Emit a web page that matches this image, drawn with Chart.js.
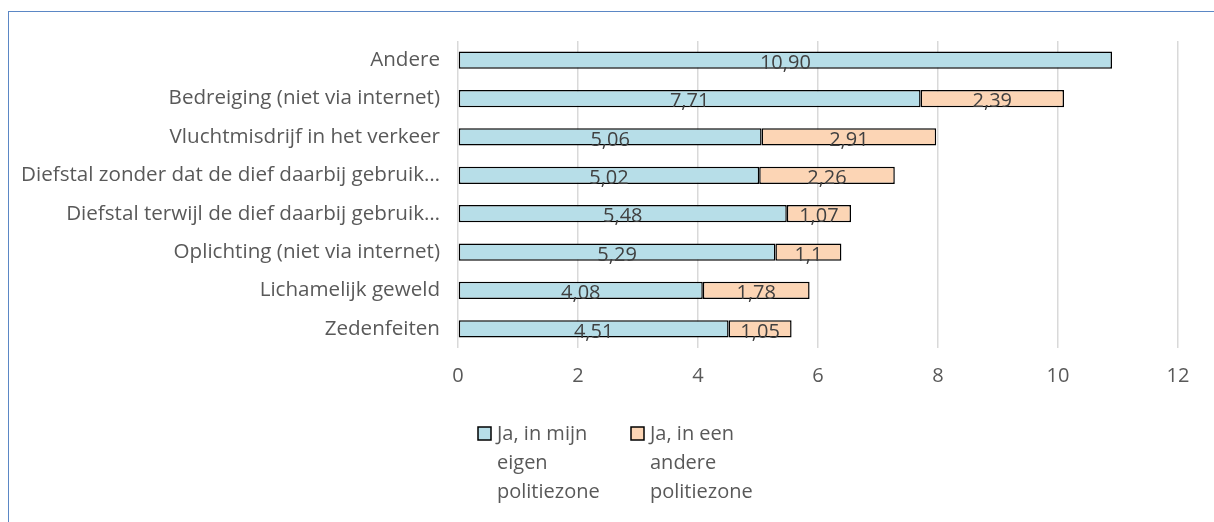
<!DOCTYPE html>
<html>
<head>
<meta charset="utf-8">
<script src="https://cdn.jsdelivr.net/npm/chart.js@4/dist/chart.umd.min.js"></script>
<style>
  html, body { margin: 0; padding: 0; background: #fff; overflow: hidden; }
  #wrap { position: relative; width: 1214px; height: 522px; }
  #frame { position: absolute; left: 8px; top: 11px; width: 1300px; height: 600px; border: 1px solid #5B87C5; box-sizing: border-box; }
  canvas { position: absolute; left: 0; top: 0; }
</style>
</head>
<body>
<div id="wrap">
  <div id="frame"></div>
  <canvas id="chart" width="1214" height="522"></canvas>
</div>
<script>
const categories = [
  'Andere',
  'Bedreiging (niet via internet)',
  'Vluchtmisdrijf in het verkeer',
  'Diefstal zonder dat de dief daarbij gebruik…',
  'Diefstal terwijl de dief daarbij gebruik…',
  'Oplichting (niet via internet)',
  'Lichamelijk geweld',
  'Zedenfeiten',
];
// kept as strings so the labels show the same decimals as the source (10,90 / 1,1)
const eigenZone = ['10.90', '7.71', '5.06', '5.02', '5.48', '5.29', '4.08', '4.51'];
const andereZone = [null, '2.39', '2.91', '2.26', '1.07', '1.1', '1.78', '1.05'];
const seriesNames = [['Ja, in mijn', 'eigen', 'politiezone'], ['Ja, in een', 'andere', 'politiezone']];
const xTicks = [0, 2, 4, 6, 8, 10, 12];

const FONT = '"Open Sans", "DejaVu Sans", sans-serif';
const colors = ['#B7DEE8', '#FCD5B5'];

// labels in the middle of each bar segment, Excel style with comma decimals
const barLabels = {
  id: 'barLabels',
  afterDatasetsDraw(chart) {
    const ctx = chart.ctx;
    ctx.save();
    ctx.font = '20px ' + FONT;
    ctx.fillStyle = '#404040';
    ctx.textAlign = 'center';
    ctx.textBaseline = 'middle';
    chart.data.datasets.forEach((ds, i) => {
      const meta = chart.getDatasetMeta(i);
      meta.data.forEach((bar, j) => {
        const v = ds.data[j];
        if (v == null) return;
        ctx.fillText(String(v).replace('.', ','), (bar.x + bar.base) / 2, bar.y + 3);
      });
    });
    ctx.restore();
  }
};

// legend with wrapped text under the axis
const wrapLegend = {
  id: 'wrapLegend',
  afterDraw(chart) {
    const ctx = chart.ctx;
    const starts = [478, 631];
    ctx.save();
    ctx.font = '20px ' + FONT;
    ctx.textBaseline = 'middle';
    ctx.textAlign = 'left';
    seriesNames.forEach((lines, i) => {
      const x = starts[i];
      ctx.fillStyle = colors[i];
      ctx.fillRect(x, 427, 13, 13);
      ctx.strokeStyle = '#000';
      ctx.lineWidth = 1.5;
      ctx.strokeRect(x, 427, 13, 13);
      ctx.fillStyle = '#595959';
      lines.forEach((t, k) => ctx.fillText(t, x + 19, 434 + k * 29));
    });
    ctx.restore();
  }
};

new Chart(document.getElementById('chart'), {
  type: 'bar',
  data: {
    labels: categories,
    datasets: [
      { label: seriesNames[0].join(' '), data: eigenZone, backgroundColor: colors[0] },
      { label: seriesNames[1].join(' '), data: andereZone, backgroundColor: colors[1] },
    ],
  },
  options: {
    indexAxis: 'y',
    responsive: false,
    animation: false,
    datasets: {
      bar: { borderColor: '#000', borderWidth: 1.5, borderSkipped: false, barPercentage: 0.75, categoryPercentage: 0.6 },
    },
    layout: { padding: { top: 41, right: 36, left: 0, bottom: 0 } },
    plugins: { legend: { display: false }, tooltip: { enabled: false } },
    scales: {
      x: {
        stacked: true,
        min: 0,
        max: 12,
        afterBuildTicks: (s) => { s.ticks = xTicks.map(v => ({ value: v })); },
        afterFit: (s) => { s.height = 174; },
        grid: { color: '#D9D9D9', lineWidth: 1.5, drawTicks: false },
        border: { display: false },
        ticks: { color: '#595959', font: { family: FONT, size: 20 }, padding: 16 },
      },
      y: {
        stacked: true,
        afterFit: (s) => { s.width = 458; },
        grid: { display: false },
        border: { display: false },
        ticks: { color: '#595959', font: { family: FONT, size: 20.6 }, padding: 10, autoSkip: false },
      },
    },
  },
  plugins: [barLabels, wrapLegend],
});
</script>
</body>
</html>
